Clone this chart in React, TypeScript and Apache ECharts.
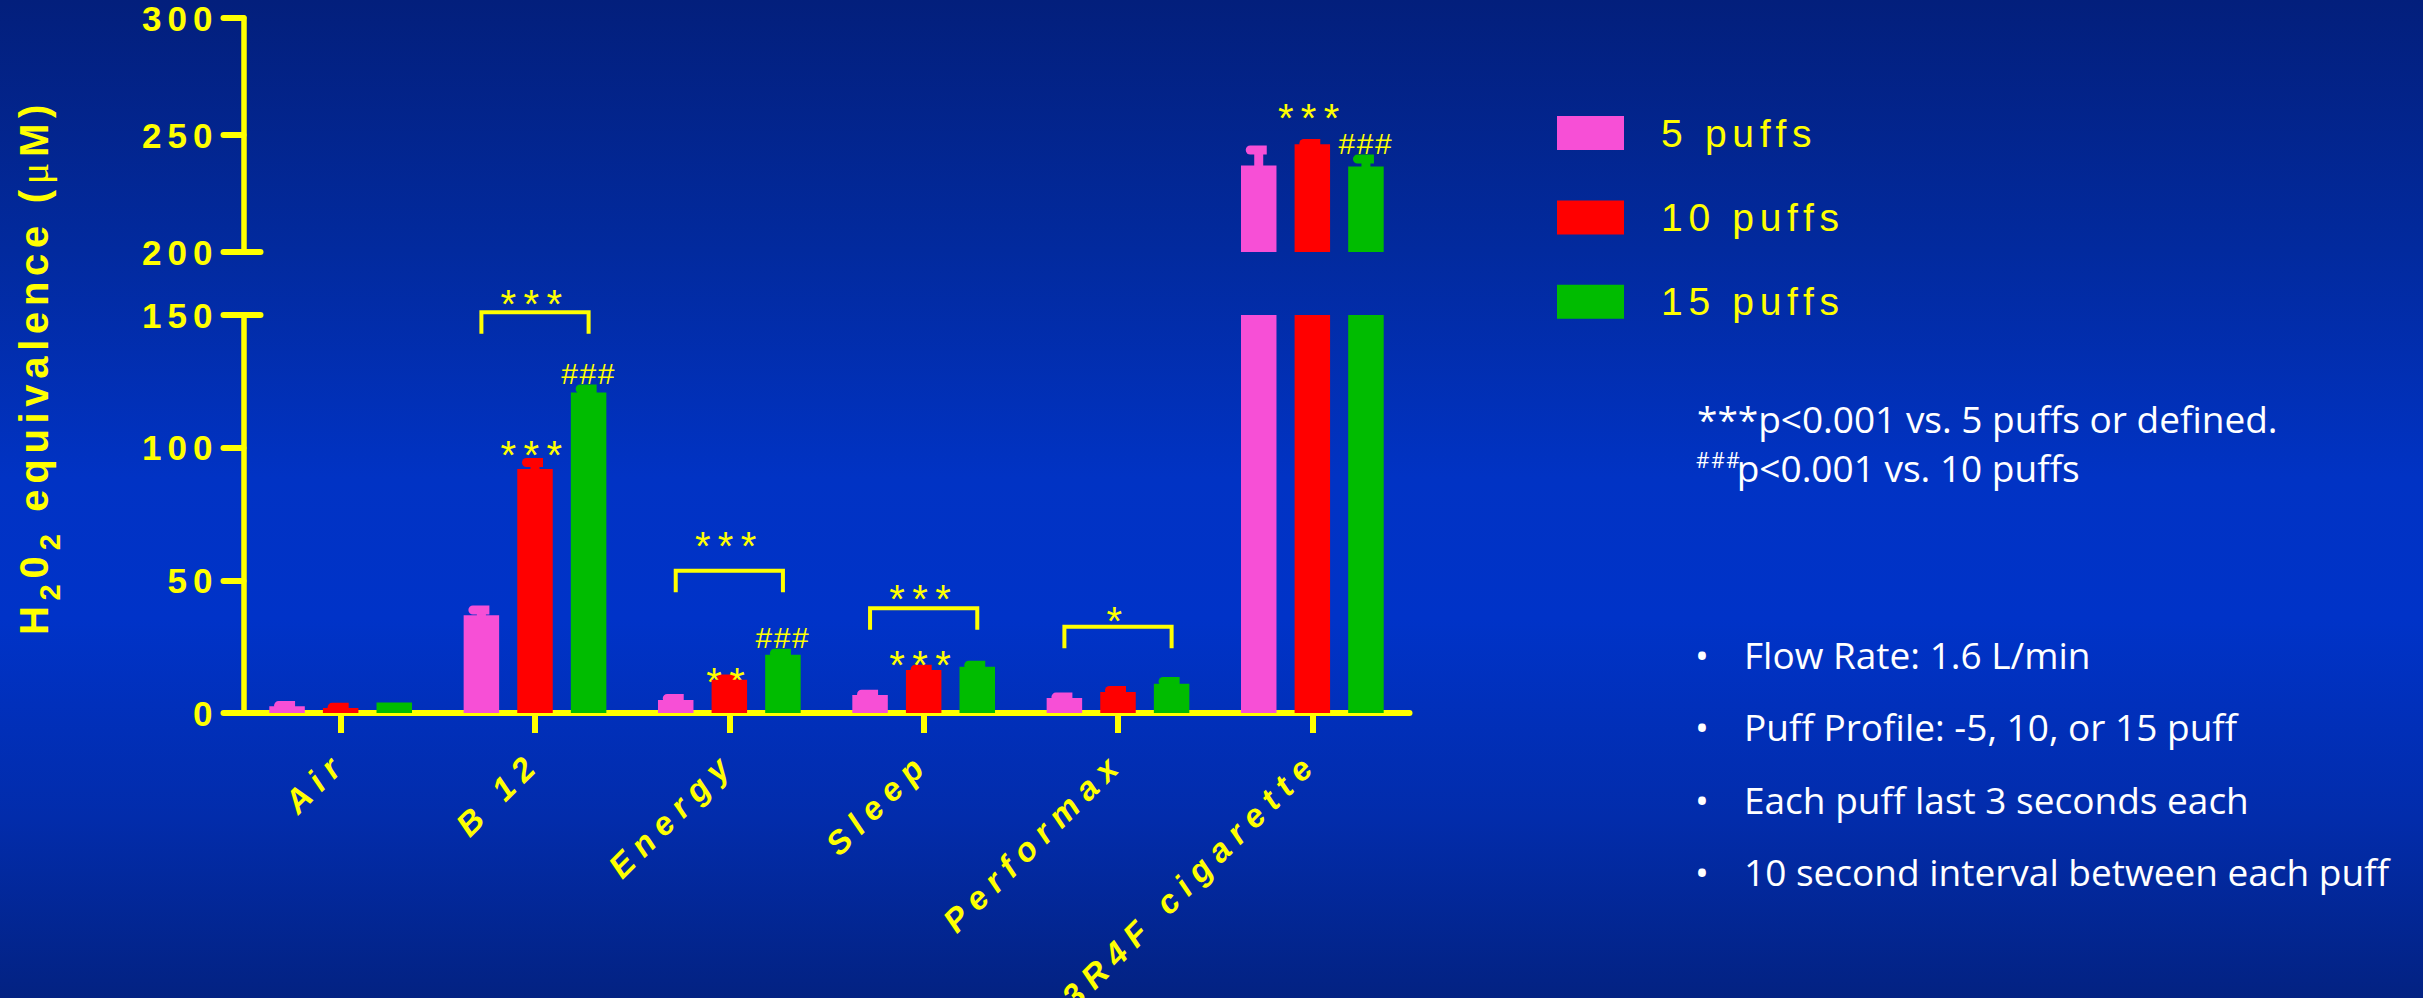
import React, { useEffect, useRef } from 'react';
import * as echarts from 'echarts';

// ---------------- data ----------------
const categories = ['Air', 'B 12', 'Energy', 'Sleep', 'Performax', '3R4F cigarette'];
const seriesNames = ['5 puffs', '10 puffs', '15 puffs'];
const puffs5 = [2.5, 36.8, 4.9, 6.8, 5.7, 237.0];
const puffs10 = [1.9, 92.0, 12.5, 16.2, 7.9, 246.0];
const puffs15 = [4.0, 120.8, 22.0, 17.4, 11.0, 236.5];
const err5 = [0.3, 2.0, 0.6, 0.3, 0.3, 6.6];
const err10 = [0.3, 2.4, 0.3, 0.3, 0.6, 0.4];
const err15 = [0, 1.3, 0.5, 0.6, 0.9, 3.2];

const upperAxis = { min: 200, max: 300, interval: 50 };
const lowerAxis = { min: 0, max: 150, interval: 50 };
const yTickLabels = ['0', '50', '100', '150', '200', '250', '300'];

// significance brackets (between 5 and 15 puffs)
const bracketCats = ['B 12', 'Energy', 'Sleep', 'Performax'];
const bracketLevels = [151, 53.6, 39.5, 32.5];
const bracketMarks = ['***', '***', '***', '*'];
const bracketMarkLevels = [157.5, 66.5, 46.5, 37.9];

// marks over single bars (series index 0 = 5, 1 = 10, 2 = 15 puffs)
const barMarkCats = ['B 12', 'B 12', 'Energy', 'Energy', 'Sleep', '3R4F cigarette', '3R4F cigarette'];
const barMarkSeries = [1, 2, 1, 2, 1, 1, 2];
const barMarkTexts = ['***', '###', '**', '###', '***', '***', '###'];
const barMarkLevels = [100.5, 128, 15.2, 28.5, 21.5, 260.9, 246.3];

// texts
const titleTokens = ['H', '2', '0', '2', 'equivalence (', 'μ', 'M)'];
const titleKinds = ['main', 'sub', 'main', 'sub', 'main', 'mu', 'main'];
const noteLine1 = '***p<0.001 vs. 5 puffs or defined.';
const noteLine2Sup = '###';
const noteLine2 = 'p<0.001 vs. 10 puffs';
const bulletLines = [
  'Flow Rate: 1.6 L/min',
  'Puff Profile: -5, 10, or 15 puff',
  'Each puff last 3 seconds each',
  '10 second interval between each puff',
];

// ---------------- style / layout ----------------
const W = 2423;
const H = 998;
const YELLOW = '#FFFF00';
const COLORS = ['#F74FD6', '#FF0000', '#00BC00'];
const FONT = '"Liberation Sans", Arial, Helvetica, sans-serif';
const NOTE_FONT = '"Open Sans", "Noto Sans", sans-serif';
const NOTE_SIZE = 37;
const GRID_LEFT = 243.5;
const GRID_W = 1166;
const BAR_W = 35.5;
const BAR_GAP = 0.51;
const STEP = BAR_W * (1 + BAR_GAP);
const STEM_W = 9;
const CAP_W = 21;
const CAP_H = 9;
const CAP_SHIFT = -2.5;
const LEG = 21.5;
const STAR_DY = 9;
const TITLE_SIZE = 40;
const TITLE_SUB = 29;
const TITLE_LS = 5.7;

const SPACING: Record<string, number> = {};
yTickLabels.forEach((t) => (SPACING[t] = 6));
categories.forEach((c) => (SPACING[c] = 8.5));
seriesNames.forEach((n) => (SPACING[n] = 5.7));
SPACING['***'] = 7.4;
SPACING['**'] = 7.4;
SPACING['*'] = 7.4;
SPACING['###'] = 1.6;
titleTokens.forEach((t) => {
  if (SPACING[t] === undefined) SPACING[t] = TITLE_LS;
});

const values = [puffs5, puffs10, puffs15];
const errs = [err5, err10, err15];

function markText(text: string, x: number, y: number) {
  const isStar = text.indexOf('*') >= 0;
  return {
    type: 'text',
    x,
    y: y + (isStar ? STAR_DY : 0),
    style: {
      text,
      fill: YELLOW,
      fontSize: isStar ? 40 : 30,
      fontFamily: FONT,
      align: 'center',
      textAlign: 'center',
      verticalAlign: 'middle',
      textVerticalAlign: 'middle',
    },
  };
}

function buildOption(): any {
  const titleRich: Record<string, any> = {};
  titleTokens.forEach((t, i) => {
    const kind = titleKinds[i];
    const ls = SPACING[t] ?? 0;
    const padLeft = t === 'equivalence (' ? 0.278 * TITLE_SIZE + TITLE_LS : 0;
    titleRich['t' + i] = {
      fill: YELLOW,
      fontFamily: kind === 'mu' ? '"Liberation Serif", serif' : FONT,
      fontWeight: kind === 'mu' ? 'normal' : 'bold',
      fontSize: kind === 'sub' ? TITLE_SUB : TITLE_SIZE,
      align: 'left',
      verticalAlign: 'middle',
      padding: [kind === 'sub' ? 32 : 0, t.length * ls, 0, padLeft],
    };
  });
  const titleText = titleTokens.map((t, i) => `{t${i}|${t}}`).join('');

  const yAxisBase = (gridIndex: number, r: { min: number; max: number; interval: number }) => ({
    type: 'value',
    gridIndex,
    min: r.min,
    max: r.max,
    interval: r.interval,
    position: 'left',
    axisLine: { show: true, lineStyle: { color: YELLOW, width: 5.5, cap: 'round' } },
    axisTick: { show: true, length: 20, lineStyle: { color: YELLOW, width: 6, cap: 'round' } },
    axisLabel: { show: true, color: YELLOW, fontSize: 35, fontWeight: 'bold', fontFamily: FONT, margin: 25 },
    splitLine: { show: false },
  });
  const breakAxis = (gridIndex: number, r: { min: number; max: number }, at: number) => ({
    type: 'value',
    gridIndex,
    min: r.min,
    max: r.max,
    position: 'left',
    axisLine: { show: false },
    axisLabel: { show: false },
    splitLine: { show: false },
    axisTick: {
      show: true,
      inside: true,
      length: 17,
      customValues: [at],
      lineStyle: { color: YELLOW, width: 6, cap: 'round' },
    },
  });

  const lowerBars = [0, 1, 2].map((s) => ({
    type: 'bar',
    name: seriesNames[s],
    xAxisIndex: 1,
    yAxisIndex: 1,
    data: values[s],
    barWidth: BAR_W,
    barGap: `${BAR_GAP * 100}%`,
    clip: true,
    silent: true,
    itemStyle: { color: COLORS[s] },
  }));
  const upperBars = [0, 1, 2].map((s) => ({
    type: 'bar',
    name: seriesNames[s],
    xAxisIndex: 0,
    yAxisIndex: 0,
    data: values[s].map((v) => (v >= upperAxis.min ? v : '-')),
    barWidth: BAR_W,
    barGap: `${BAR_GAP * 100}%`,
    clip: true,
    silent: true,
    itemStyle: { color: COLORS[s] },
  }));

  const errSeries = (s: number, lower: boolean) => ({
    type: 'custom',
    name: 'err ' + seriesNames[s] + (lower ? ' lo' : ' hi'),
    coordinateSystem: 'cartesian2d',
    xAxisIndex: lower ? 1 : 0,
    yAxisIndex: lower ? 1 : 0,
    silent: true,
    encode: { x: 0, y: 1 },
    data: categories.map((_, i) => [i, values[s][i], errs[s][i]]),
    renderItem: (params: any, api: any) => {
      const cat = api.value(0);
      const mean = api.value(1);
      const err = api.value(2);
      if (lower ? mean > lowerAxis.max : mean < upperAxis.min) return null;
      if (!(err > 0)) return null;
      const b = api.coord([cat, mean]);
      const t = api.coord([cat, mean + err]);
      const cx = b[0] + (s - 1) * STEP;
      return {
        type: 'group',
        children: [
          {
            type: 'rect',
            shape: { x: cx - STEM_W / 2, y: t[1], width: STEM_W, height: b[1] - t[1] + 1 },
            style: { fill: COLORS[s] },
          },
          {
            type: 'rect',
            shape: { x: cx - CAP_W / 2 + CAP_SHIFT, y: t[1] - CAP_H / 2, width: CAP_W, height: CAP_H, r: [4.5, 0, 0, 4.5] },
            style: { fill: COLORS[s] },
          },
        ],
      };
    },
  });

  const bracketSeries = {
    type: 'custom',
    name: 'brackets',
    coordinateSystem: 'cartesian2d',
    xAxisIndex: 1,
    yAxisIndex: 1,
    silent: true,
    encode: { x: 0, y: 1 },
    data: bracketCats.map((c, i) => [categories.indexOf(c), bracketLevels[i]]),
    renderItem: (params: any, api: any) => {
      const i = params.dataIndex;
      const p = api.coord([api.value(0), bracketLevels[i]]);
      const m = api.coord([api.value(0), bracketMarkLevels[i]]);
      const x0 = p[0] - STEP;
      const x1 = p[0] + STEP;
      return {
        type: 'group',
        children: [
          {
            type: 'polyline',
            shape: { points: [[x0, p[1] + LEG], [x0, p[1]], [x1, p[1]], [x1, p[1] + LEG]] },
            style: { stroke: YELLOW, lineWidth: 4, fill: 'none' },
          },
          markText(bracketMarks[i], p[0], m[1]),
        ],
      };
    },
  };

  const markSeries = (lower: boolean) => ({
    type: 'custom',
    name: lower ? 'marks lo' : 'marks hi',
    coordinateSystem: 'cartesian2d',
    xAxisIndex: lower ? 1 : 0,
    yAxisIndex: lower ? 1 : 0,
    silent: true,
    encode: { x: 0, y: 1 },
    data: barMarkCats.map((c, i) => [categories.indexOf(c), barMarkLevels[i]]),
    renderItem: (params: any, api: any) => {
      const i = params.dataIndex;
      const level = barMarkLevels[i];
      if (lower ? level > lowerAxis.max + 20 : level < upperAxis.min) return null;
      const p = api.coord([api.value(0), level]);
      const x = p[0] + (barMarkSeries[i] - 1) * STEP;
      return markText(barMarkTexts[i], x, p[1]);
    },
  });

  const bulletY = [654, 726, 799, 871];
  const graphic: any[] = [
    {
      type: 'text',
      x: 34,
      y: 367,
      rotation: Math.PI / 2,
      silent: true,
      style: {
        text: titleText,
        rich: titleRich,
        fill: YELLOW,
        fontFamily: FONT,
        fontWeight: 'bold',
        fontSize: TITLE_SIZE,
        align: 'center',
        textAlign: 'center',
        verticalAlign: 'middle',
        textVerticalAlign: 'middle',
      },
    },
    {
      type: 'text',
      x: 1697,
      y: 418,
      silent: true,
      style: {
        text: noteLine1,
        fill: '#FFFFFF',
        fontFamily: NOTE_FONT,
        fontSize: NOTE_SIZE,
        verticalAlign: 'middle',
        textVerticalAlign: 'middle',
      },
    },
    {
      type: 'text',
      x: 1696,
      y: 467,
      silent: true,
      style: {
        text: `{s|${noteLine2Sup}}{n|${noteLine2}}`,
        rich: {
          s: { fontSize: 21, padding: [0, 0, 15, 0], align: 'left', verticalAlign: 'middle', fill: '#FFFFFF', fontFamily: NOTE_FONT },
          n: { fontSize: NOTE_SIZE, align: 'left', verticalAlign: 'middle', fill: '#FFFFFF', fontFamily: NOTE_FONT },
        },
        fill: '#FFFFFF',
        fontFamily: NOTE_FONT,
        fontSize: NOTE_SIZE,
        verticalAlign: 'middle',
        textVerticalAlign: 'middle',
      },
    },
  ];
  bulletLines.forEach((t, i) => {
    graphic.push({
      type: 'text',
      x: 1702,
      y: bulletY[i],
      silent: true,
      style: { text: '•', fill: '#FFFFFF', fontFamily: NOTE_FONT, fontSize: NOTE_SIZE, align: 'center', textAlign: 'center', verticalAlign: 'middle', textVerticalAlign: 'middle' },
    });
    graphic.push({
      type: 'text',
      x: 1744,
      y: bulletY[i],
      silent: true,
      style: { text: t, fill: '#FFFFFF', fontFamily: NOTE_FONT, fontSize: NOTE_SIZE, verticalAlign: 'middle', textVerticalAlign: 'middle' },
    });
  });

  return {
    animation: false,
    backgroundColor: {
      type: 'linear',
      x: 0,
      y: 0,
      x2: 0,
      y2: 1,
      colorStops: [
        { offset: 0, color: '#031f7c' },
        { offset: 0.25, color: '#022a9e' },
        { offset: 0.48, color: '#0133c4' },
        { offset: 0.62, color: '#0033c8' },
        { offset: 0.82, color: '#022cab' },
        { offset: 1, color: '#032282' },
      ],
    },
    tooltip: { show: false },
    legend: {
      data: seriesNames,
      orient: 'vertical',
      left: 1552,
      top: 108.5,
      itemWidth: 67,
      itemHeight: 34,
      itemGap: 45.4,
      icon: 'rect',
      selectedMode: false,
      formatter: '{t|{name}}',
      textStyle: {
        color: YELLOW,
        fontSize: 39,
        fontFamily: FONT,
        rich: { t: { color: YELLOW, fontSize: 39, fontFamily: FONT, padding: [0, 0, 0, 32], lineHeight: 34 } },
      },
    },
    grid: [
      { left: GRID_LEFT, top: 18, width: GRID_W, height: 234, containLabel: false, outerBoundsMode: 'none' },
      { left: GRID_LEFT, top: 315, width: GRID_W, height: 398, containLabel: false, outerBoundsMode: 'none' },
    ],
    xAxis: [
      { type: 'category', gridIndex: 0, data: categories, show: false },
      {
        type: 'category',
        gridIndex: 1,
        data: categories,
        axisLine: { show: true, lineStyle: { color: YELLOW, width: 6, cap: 'round' } },
        axisTick: { show: true, alignWithLabel: true, interval: 0, length: 20, lineStyle: { color: YELLOW, width: 6 } },
        axisLabel: {
          interval: 0,
          rotate: 45,
          margin: 44,
          color: YELLOW,
          fontSize: 33,
          fontWeight: 'bold',
          fontStyle: 'italic',
          fontFamily: FONT,
        },
        splitLine: { show: false },
      },
    ],
    yAxis: [
      yAxisBase(0, upperAxis),
      yAxisBase(1, lowerAxis),
      breakAxis(0, upperAxis, upperAxis.min),
      breakAxis(1, lowerAxis, lowerAxis.max),
    ],
    series: [
      ...lowerBars,
      ...upperBars,
      errSeries(0, true),
      errSeries(1, true),
      errSeries(2, true),
      errSeries(0, false),
      errSeries(1, false),
      errSeries(2, false),
      bracketSeries,
      markSeries(true),
      markSeries(false),
    ],
    graphic,
  };
}

export default function App() {
  const ref = useRef<HTMLDivElement>(null);
  useEffect(() => {
    const el = ref.current;
    if (!el) return;
    const chart = echarts.init(el, undefined, { renderer: 'svg' });
    const applySpacing = () => {
      el.querySelectorAll('text').forEach((t) => {
        const key = t.textContent || '';
        const s = SPACING[key];
        if (s !== undefined) t.setAttribute('letter-spacing', String(s));
      });
    };
    chart.setOption(buildOption());
    applySpacing();
    chart.on('finished', applySpacing);
    chart.on('rendered', applySpacing);
    return () => {
      chart.dispose();
    };
  }, []);
  return <div ref={ref} style={{ position: 'absolute', left: 0, top: 0, width: W, height: H }} />;
}
